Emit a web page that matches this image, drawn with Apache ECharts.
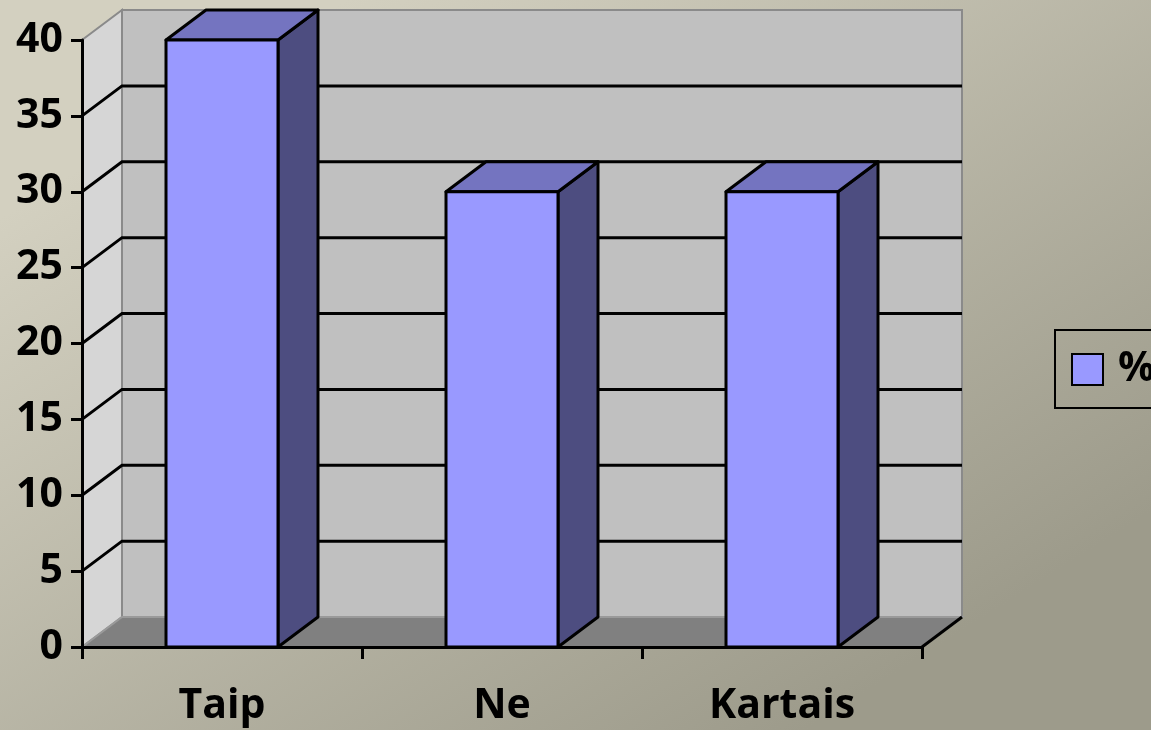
<!DOCTYPE html>
<html>
<head>
<meta charset="utf-8">
<script src="https://cdn.jsdelivr.net/npm/echarts@6/dist/echarts.min.js"></script>
<style>
  html, body { margin: 0; padding: 0; }
  #main { width: 1151px; height: 730px; }
</style>
</head>
<body>
<div id="main"></div>
<script>
// data
var categories = ['Taip', 'Ne', 'Kartais']
var percent = [40, 30, 30]
var seriesName = '%'
var yMin = 0
var yMax = 40
var yStep = 5

// 3d look (pixel offset of the back plane)
var DX = 40
var DY = -30
var FONT = '"Open Sans", Lato, sans-serif'

var chart = echarts.init(document.getElementById('main'))

// walls, floor and the back grid lines
function renderWalls (params, api) {
  var children = []
  var p0 = api.coord([0, yMin])
  var half = api.size([1, 0])[0] / 2
  var xl = p0[0] - half
  var xr = api.coord([categories.length - 1, yMin])[0] + half
  var yb = p0[1]
  var yt = api.coord([0, yMax])[1]
  // back wall
  children.push({
    type: 'polygon',
    shape: { points: [[xl + DX, yt + DY], [xr + DX, yt + DY], [xr + DX, yb + DY], [xl + DX, yb + DY]] },
    style: { fill: '#c0c0c0', stroke: '#8a8a8a', lineWidth: 2 }
  })
  // side wall
  children.push({
    type: 'polygon',
    shape: { points: [[xl, yt], [xl + DX, yt + DY], [xl + DX, yb + DY], [xl, yb]] },
    style: { fill: '#d6d6d6', stroke: '#8a8a8a', lineWidth: 2 }
  })
  // grid lines
  for (var v = yMin + yStep; v < yMax; v += yStep) {
    var y = api.coord([0, v])[1]
    children.push({
      type: 'polyline',
      shape: { points: [[xl, y], [xl + DX, y + DY], [xr + DX, y + DY]] },
      style: { stroke: '#000', lineWidth: 3, fill: null }
    })
  }
  // floor
  children.push({
    type: 'polygon',
    shape: { points: [[xl, yb], [xr, yb], [xr + DX, yb + DY], [xl + DX, yb + DY]] },
    style: { fill: '#808080', stroke: '#9a9a9a', lineWidth: 2 }
  })
  children.push({
    type: 'line',
    shape: { x1: xr, y1: yb, x2: xr + DX, y2: yb + DY },
    style: { stroke: '#000', lineWidth: 3 }
  })
  return { type: 'group', children: children }
}

function renderBar (params, api) {
  var idx = api.value(0)
  var val = api.value(1)
  var top = api.coord([idx, val])
  var base = api.coord([idx, yMin])
  var w = api.size([1, 0])[0] * 0.4
  var x0 = top[0] - w / 2
  var x1 = top[0] + w / 2
  var yt = top[1]
  var yb = base[1]
  var line = { stroke: '#000', lineWidth: 3, lineJoin: 'round' }
  return {
    type: 'group',
    children: [
      {
        type: 'polygon',
        shape: { points: [[x1, yt], [x1 + DX, yt + DY], [x1 + DX, yb + DY], [x1, yb]] },
        style: Object.assign({ fill: '#4d4d80' }, line)
      },
      {
        type: 'polygon',
        shape: { points: [[x0, yt], [x1, yt], [x1 + DX, yt + DY], [x0 + DX, yt + DY]] },
        style: Object.assign({ fill: '#7474c0' }, line)
      },
      {
        type: 'rect',
        shape: { x: x0, y: yt, width: w, height: yb - yt },
        style: Object.assign({ fill: api.visual('color') }, line)
      }
    ]
  }
}

chart.setOption({
  animation: false,
  backgroundColor: {
    type: 'linear', x: 0.3, y: 0, x2: 0.7, y2: 1,
    colorStops: [
      { offset: 0, color: '#d3d0c0' },
      { offset: 1, color: '#9d9b8b' }
    ]
  },
  grid: { left: 82, right: 229, top: 40, bottom: 83 },
  legend: {
    left: 1055,
    top: 330,
    orient: 'vertical',
    padding: [19, 40, 18, 16],
    borderColor: '#000',
    borderWidth: 2,
    itemWidth: 31,
    itemHeight: 31,
    itemGap: 16,
    data: [{ name: seriesName, icon: 'rect' }],
    itemStyle: { borderColor: '#000', borderWidth: 2 },
    textStyle: { fontFamily: FONT, fontWeight: 'bold', fontSize: 41, lineHeight: 34, color: '#000', padding: [0, 0, 0, 10] }
  },
  xAxis: {
    type: 'category',
    data: categories,
    z: 5,
    axisLine: { lineStyle: { color: '#000', width: 3 } },
    axisTick: { show: true, length: 12, lineStyle: { color: '#000', width: 3 } },
    axisLabel: { margin: 39, fontFamily: FONT, fontWeight: 'bold', fontSize: 41, color: '#000' }
  },
  yAxis: {
    type: 'value',
    min: yMin,
    max: yMax,
    interval: yStep,
    z: 5,
    splitLine: { show: false },
    axisLine: { show: true, lineStyle: { color: '#000', width: 3 } },
    axisTick: { show: true, length: 11, lineStyle: { color: '#000', width: 3 } },
    axisLabel: { margin: 19, fontFamily: FONT, fontWeight: 'bold', fontSize: 41, color: '#000' }
  },
  series: [
    {
      name: 'walls',
      type: 'custom',
      renderItem: renderWalls,
      data: [[0, yMin]],
      silent: true,
      z: 1
    },
    {
      name: seriesName,
      type: 'custom',
      renderItem: renderBar,
      itemStyle: { color: '#9999ff' },
      encode: { x: 0, y: 1 },
      data: percent.map(function (v, i) { return [i, v] }),
      z: 3
    }
  ]
})
</script>
</body>
</html>
